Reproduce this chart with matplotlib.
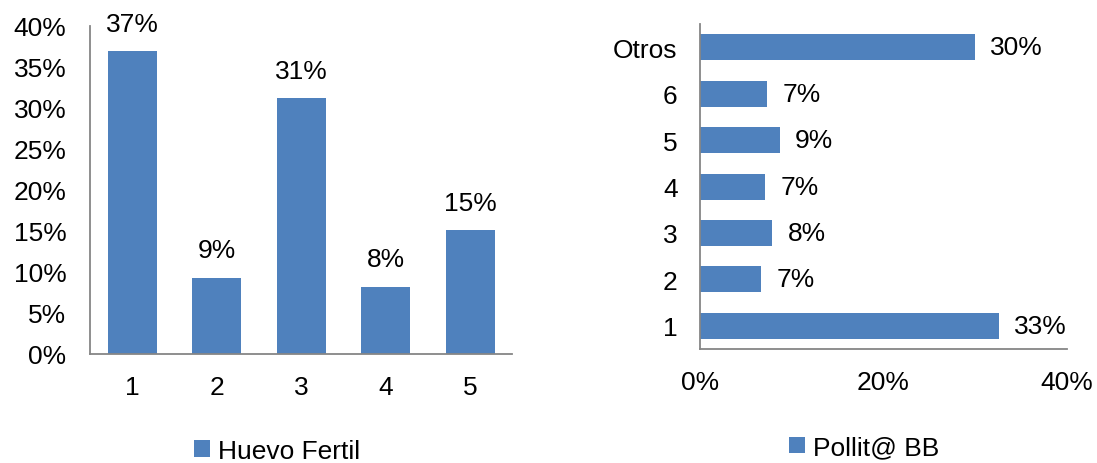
import matplotlib.pyplot as plt
from matplotlib.ticker import PercentFormatter

plt.rcParams["font.family"] = ["Liberation Sans", "DejaVu Sans"]

# Left chart: Huevo Fertil
huevo_cats = ["1", "2", "3", "4", "5"]
huevo_vals = [36.9, 9.3, 31.2, 8.2, 15.1]

# Right chart: Pollit@ BB
pollito_cats = ["1", "2", "3", "4", "5", "6", "Otros"]
pollito_vals = [32.6, 6.7, 7.9, 7.1, 8.7, 7.3, 30.0]

bar_color = "#4F81BD"
axis_color = "#868686"
fs = 19

fig = plt.figure(figsize=(10.97, 4.64), dpi=100)

# ---- left: vertical bars
ax1 = fig.add_axes([0.082, 0.235, 0.385, 0.707])
x = range(len(huevo_cats))
ax1.bar(x, huevo_vals, width=0.58, color=bar_color, label="Huevo Fertil")
for xi, v in zip(x, huevo_vals):
    ax1.annotate(f"{v:.0f}%", (xi, v), xytext=(0, 11), textcoords="offset points",
                 ha="center", va="bottom", fontsize=fs)
ax1.set_xlim(-0.5, 4.5)
ax1.set_ylim(0, 40)
ax1.set_yticks(range(0, 41, 5))
ax1.yaxis.set_major_formatter(PercentFormatter(decimals=0))
ax1.set_xticks(list(x))
ax1.set_xticklabels(huevo_cats)
ax1.tick_params(axis="y", length=0, pad=17, labelsize=fs)
ax1.tick_params(axis="x", length=0, pad=15, labelsize=fs)

# ---- right: horizontal bars
ax2 = fig.add_axes([0.638, 0.2457, 0.3346, 0.7004])
y = range(len(pollito_cats))
ax2.barh(y, pollito_vals, height=0.56, color=bar_color, label="Pollit@ BB")
for yi, v in zip(y, pollito_vals):
    ax2.annotate(f"{v:.0f}%", (v, yi), xytext=(11, 0), textcoords="offset points",
                 ha="left", va="center", fontsize=fs)
ax2.set_ylim(-0.5, 6.5)
ax2.set_xlim(0, 40)
ax2.set_xticks([0, 20, 40])
ax2.xaxis.set_major_formatter(PercentFormatter(decimals=0))
ax2.set_yticks(list(y))
ax2.set_yticklabels(pollito_cats)
ax2.tick_params(axis="y", length=0, pad=16, labelsize=fs)
ax2.tick_params(axis="x", length=0, pad=15, labelsize=fs)

for ax in (ax1, ax2):
    for side in ("top", "right"):
        ax.spines[side].set_visible(False)
    for side in ("left", "bottom"):
        ax.spines[side].set_color(axis_color)
        ax.spines[side].set_linewidth(1.3)

fig.legend(*ax1.get_legend_handles_labels(), loc="center", bbox_to_anchor=(0.2525, 0.026),
           frameon=False, fontsize=fs, handlelength=0.6, handleheight=0.6,
           handletextpad=0.3, borderpad=0)
fig.legend(*ax2.get_legend_handles_labels(), loc="center", bbox_to_anchor=(0.7876, 0.034),
           frameon=False, fontsize=fs, handlelength=0.6, handleheight=0.6,
           handletextpad=0.3, borderpad=0)

fig.savefig("out.png", dpi=100)
